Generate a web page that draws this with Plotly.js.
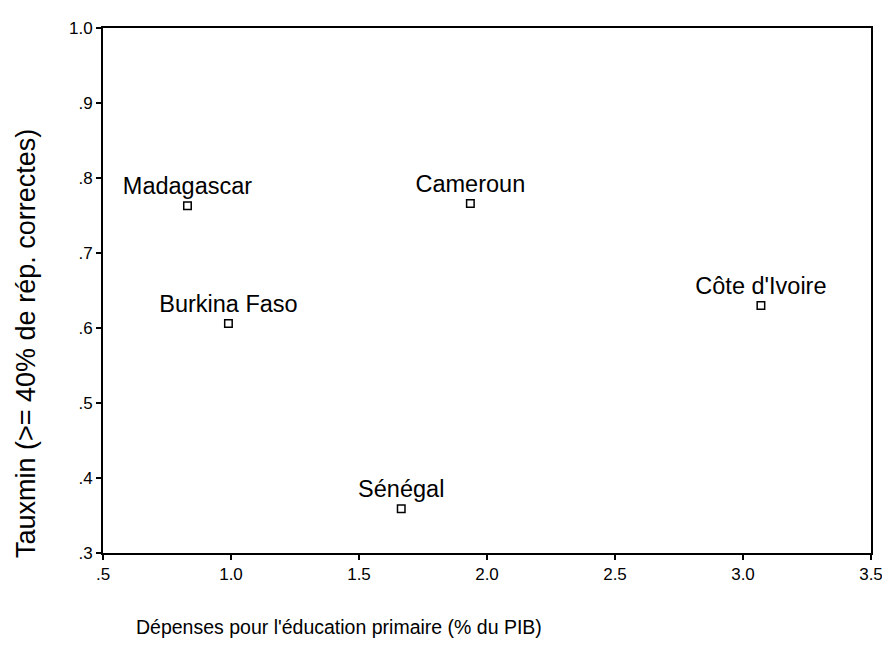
<!DOCTYPE html>
<html>
<head>
<meta charset="utf-8">
<script src="https://cdn.plot.ly/plotly-3.0.1.min.js"></script>
<style>html,body{margin:0;padding:0;background:#fff;}#chart{width:882px;height:649px;}</style>
</head>
<body>
<div id="chart"></div>
<script>
const countries = ["Madagascar", "Burkina Faso", "Cameroun", "Côte d'Ivoire", "Sénégal"];
const depenses = [0.83, 0.99, 1.935, 3.07, 1.665];
const tauxmin = [0.763, 0.606, 0.766, 0.63, 0.359];
const xTickVals = [0.5, 1.0, 1.5, 2.0, 2.5, 3.0, 3.5];
const xTickText = [".5", "1.0", "1.5", "2.0", "2.5", "3.0", "3.5"];
const yTickVals = [0.3, 0.4, 0.5, 0.6, 0.7, 0.8, 0.9, 1.0];
const yTickText = [".3", ".4", ".5", ".6", ".7", ".8", ".9", "1.0"];

const font = "Liberation Sans, Arial, sans-serif";
const trace = {
  x: depenses, y: tauxmin, text: countries,
  type: "scatter", mode: "markers+text",
  textposition: "top center",
  textfont: {family: font, size: 23.5, color: "#000"},
  marker: {symbol: "square-open", size: 7.5, color: "#000", line: {width: 1.5, color: "#000"}},
  cliponaxis: false, hoverinfo: "none"
};
const axisCommon = {
  showgrid: false, zeroline: false, showline: true, mirror: true,
  linecolor: "#000", linewidth: 2, ticks: "outside", ticklen: 5, tickwidth: 1.5, tickcolor: "#000",
  tickfont: {family: font, size: 17, color: "#000"}, ticklabeloverflow: "allow"
};
const layout = {
  width: 882, height: 649,
  margin: {l: 103, r: 11, t: 28, b: 96},
  paper_bgcolor: "#fff", plot_bgcolor: "#fff",
  showlegend: false,
  xaxis: Object.assign({}, axisCommon, {range: [0.5, 3.5], tickvals: xTickVals, ticktext: xTickText}),
  yaxis: Object.assign({}, axisCommon, {range: [0.3, 1.0], tickvals: yTickVals, ticktext: yTickText}),
  annotations: [
    {text: "Dépenses pour l'éducation primaire (% du PIB)", xref: "paper", yref: "paper",
     x: (134 - 103) / 768, y: (553 - 627) / 525, xanchor: "left", yanchor: "middle", showarrow: false,
     font: {family: font, size: 19.5, color: "#000"}},
    {text: "Tauxmin (>= 40% de rép. correctes)", xref: "paper", yref: "paper",
     x: (26 - 103) / 768, y: (553 - 344) / 525, xanchor: "center", yanchor: "middle", textangle: -90, showarrow: false,
     font: {family: font, size: 27, color: "#000"}}
  ]
};
Plotly.newPlot("chart", [trace], layout, {displayModeBar: false, staticPlot: true});
</script>
</body>
</html>
